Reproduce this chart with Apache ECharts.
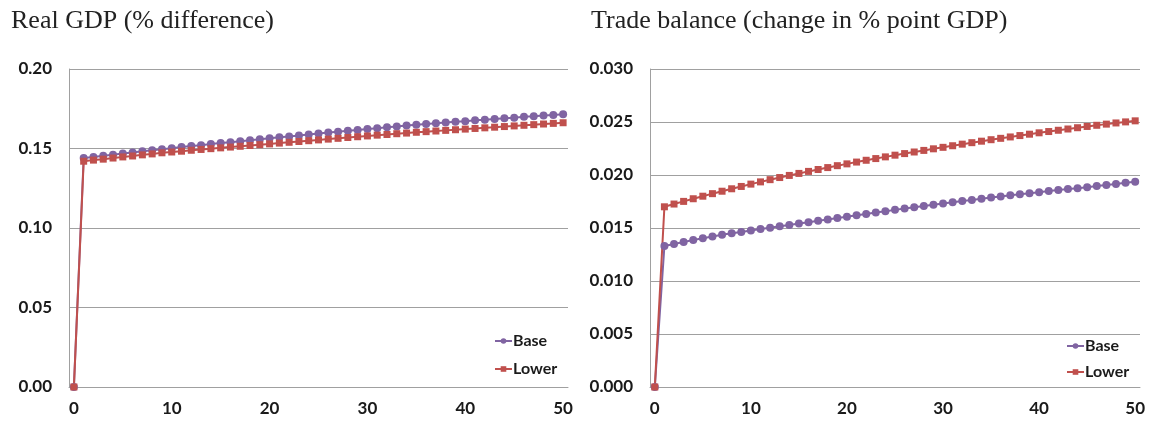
<!DOCTYPE html>
<html>
<head>
<meta charset="utf-8">
<script src="https://cdn.jsdelivr.net/npm/echarts@6/dist/echarts.min.js"></script>
<style>
html,body{margin:0;padding:0;background:#fff;}
#c{width:1156px;height:424px;}
</style>
</head>
<body>
<div id="c"></div>
<script>
// Periods 0..50
var periods = [];
for (var i = 0; i <= 50; i++) periods.push(String(i));

var titleLeft = 'Real GDP (% difference)';
var titleRight = 'Trade balance (change in % point GDP)';
var seriesNames = ['Base', 'Lower'];

var gdpBase = [0,
 0.1440,0.1447,0.1454,0.1461,0.1468,0.1475,0.1482,0.1489,0.1496,0.1502,
 0.1509,0.1515,0.1521,0.1528,0.1534,0.1540,0.1546,0.1552,0.1558,0.1564,
 0.1570,0.1576,0.1582,0.1588,0.1594,0.1600,0.1606,0.1611,0.1617,0.1622,
 0.1628,0.1633,0.1638,0.1644,0.1649,0.1654,0.1659,0.1663,0.1668,0.1672,
 0.1677,0.1681,0.1686,0.1690,0.1694,0.1699,0.1703,0.1707,0.1711,0.1715];

var gdpLower = [0,
 0.1420,0.1427,0.1433,0.1440,0.1447,0.1453,0.1460,0.1466,0.1473,0.1478,
 0.1483,0.1489,0.1494,0.1499,0.1504,0.1509,0.1514,0.1519,0.1524,0.1529,
 0.1534,0.1539,0.1544,0.1549,0.1554,0.1559,0.1564,0.1569,0.1574,0.1579,
 0.1584,0.1588,0.1593,0.1597,0.1602,0.1606,0.1610,0.1614,0.1618,0.1622,
 0.1626,0.1630,0.1634,0.1638,0.1642,0.1646,0.1650,0.1654,0.1658,0.1662];

var tbBase = [0,
 0.01330,0.01350,0.01368,0.01386,0.01403,0.01420,0.01436,0.01451,0.01463,0.01477,
 0.01490,0.01503,0.01516,0.01529,0.01542,0.01555,0.01568,0.01581,0.01594,0.01607,
 0.01620,0.01633,0.01646,0.01659,0.01671,0.01683,0.01695,0.01707,0.01719,0.01731,
 0.01743,0.01754,0.01765,0.01776,0.01787,0.01798,0.01808,0.01818,0.01828,0.01838,
 0.01848,0.01858,0.01867,0.01876,0.01885,0.01896,0.01906,0.01916,0.01926,0.01936];

var tbLower = [0,
 0.01700,0.01726,0.01751,0.01776,0.01800,0.01824,0.01847,0.01870,0.01892,0.01914,
 0.01935,0.01956,0.01976,0.01996,0.02015,0.02034,0.02052,0.02070,0.02088,0.02105,
 0.02122,0.02139,0.02155,0.02171,0.02187,0.02202,0.02217,0.02232,0.02247,0.02261,
 0.02276,0.02291,0.02305,0.02319,0.02333,0.02346,0.02359,0.02372,0.02385,0.02398,
 0.02410,0.02422,0.02434,0.02446,0.02458,0.02469,0.02480,0.02491,0.02501,0.02511];

var purple = '#8064A2';
var red = '#C0504D';
var axisGray = '#A0A0A0';
var labelFont = {fontFamily: 'Lato', fontWeight: 'bold', fontSize: 17, color: '#1a1a1a'};
var titleFont = {fontFamily: 'Liberation Serif', fontWeight: 'normal', fontSize: 26, color: '#222'};

function xAxis(idx) {
  return {
    type: 'category', gridIndex: idx, data: periods, boundaryGap: true,
    axisLine: {lineStyle: {color: axisGray, width: 1}},
    axisTick: {show: false},
    axisLabel: Object.assign({interval: 9, margin: 13}, labelFont),
    splitLine: {show: false}
  };
}
function yAxis(idx, max, interval, dec) {
  return {
    type: 'value', gridIndex: idx, min: 0, max: max, interval: interval,
    axisLine: {show: true, lineStyle: {color: axisGray, width: 1}},
    axisTick: {show: false},
    axisLabel: Object.assign({margin: 17, formatter: function (v) { return v.toFixed(dec); }}, labelFont),
    splitLine: {show: true, lineStyle: {color: axisGray, width: 1}}
  };
}
function line(name, data, idx, color, symbol) {
  return {
    name: name, type: 'line', xAxisIndex: idx, yAxisIndex: idx, data: data,
    symbol: symbol, symbolSize: symbol === 'rect' ? 7 : 8,
    showSymbol: true, showAllSymbol: true,
    lineStyle: {color: color, width: 2}, itemStyle: {color: color},
    animation: false
  };
}

var legendText = Object.assign({}, labelFont, {fontSize: 16, padding: [0, 0, 0, -4]});

var chart = echarts.init(document.getElementById('c'), null, {renderer: 'canvas'});
chart.setOption({
  animation: false,
  backgroundColor: '#fff',
  title: [
    {text: titleLeft, left: 6, top: 3, textStyle: titleFont},
    {text: titleRight, left: 586, top: 3, textStyle: titleFont}
  ],
  legend: [
    {orient: 'vertical', left: 489, top: 328, itemGap: 12, itemWidth: 17, itemHeight: 7,
     data: seriesNames, textStyle: legendText, selectedMode: false},
    {orient: 'vertical', left: 1061, top: 333, itemGap: 10, itemWidth: 17, itemHeight: 7,
     data: seriesNames, textStyle: legendText, selectedMode: false}
  ],
  grid: [
    {left: 69, top: 69, width: 499, height: 318},
    {left: 650, top: 69, width: 490, height: 318}
  ],
  xAxis: [xAxis(0), xAxis(1)],
  yAxis: [yAxis(0, 0.20, 0.05, 2), yAxis(1, 0.030, 0.005, 3)],
  series: [
    line(seriesNames[0], gdpBase, 0, purple, 'circle'),
    line(seriesNames[1], gdpLower, 0, red, 'rect'),
    line(seriesNames[0], tbBase, 1, purple, 'circle'),
    line(seriesNames[1], tbLower, 1, red, 'rect')
  ]
});
</script>
</body>
</html>
